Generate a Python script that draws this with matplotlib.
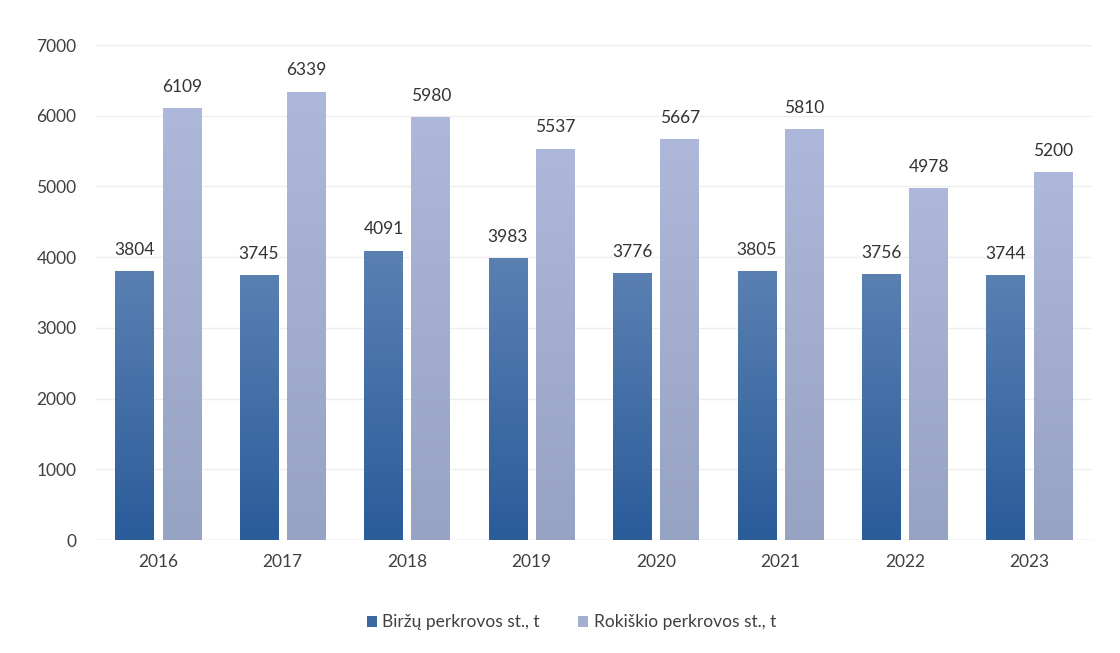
import numpy as np
import matplotlib
matplotlib.use("Agg")
import matplotlib.pyplot as plt
from matplotlib.colors import LinearSegmentedColormap
from matplotlib.patches import Patch

plt.rcParams['font.family'] = ['Lato', 'DejaVu Sans']

years = ["2016", "2017", "2018", "2019", "2020", "2021", "2022", "2023"]
birzai = [3804, 3745, 4091, 3983, 3776, 3805, 3756, 3744]
rokiskis = [6109, 6339, 5980, 5537, 5667, 5810, 4978, 5200]
labels = ["Biržų perkrovos st., t", "Rokiškio perkrovos st., t"]

fig = plt.figure(figsize=(11.2, 6.53), dpi=100)
ax = fig.add_axes([0.0857, 0.173, 0.889, 0.758])

x = np.arange(len(years))
w = 0.31
off = 0.19

blue_cm = LinearSegmentedColormap.from_list("b", ["#2a5c9a", "#5a80b2"])
grey_cm = LinearSegmentedColormap.from_list("g", ["#97a3c2", "#aeb8da"])

grad = np.linspace(0, 1, 256).reshape(-1, 1)

def gradient_bars(xs, vals, cmap):
    bars = ax.bar(xs, vals, width=w, color="none", edgecolor="none", zorder=2)
    for b in bars:
        x0, y0 = b.get_x(), b.get_y()
        im = ax.imshow(grad, cmap=cmap, origin="lower", aspect="auto",
                       extent=[x0, x0 + b.get_width(), y0, y0 + b.get_height()],
                       zorder=2)
        im.set_clip_path(b)
    return bars

b1 = gradient_bars(x - off, birzai, blue_cm)
b2 = gradient_bars(x + off, rokiskis, grey_cm)

for xi, v in zip(x - off, birzai):
    ax.text(xi, v + 190, str(v), ha="center", va="bottom", fontsize=12.5, color="#333333")
for xi, v in zip(x + off, rokiskis):
    ax.text(xi, v + 190, str(v), ha="center", va="bottom", fontsize=12.5, color="#333333")

ax.set_xlim(-0.5, len(years) - 0.5)
ax.set_ylim(0, 7000)
ax.set_yticks(range(0, 7001, 1000))
ax.set_xticks(x)
ax.set_xticklabels(years)
ax.tick_params(axis="both", length=0, labelsize=12.5, labelcolor="#404040")
ax.tick_params(axis="y", pad=14)
ax.tick_params(axis="x", pad=10)
ax.grid(axis="y", color="#eeeeee", linewidth=1, zorder=0)
ax.set_axisbelow(True)
for s in ax.spines.values():
    s.set_visible(False)
ax.axhline(0, color="#e6e6e6", linewidth=1, zorder=1)

handles = [Patch(facecolor="#3a68a2"), Patch(facecolor="#a3aed0")]
fig.legend(handles, labels, loc="center", bbox_to_anchor=(0.51, 0.047), ncol=2,
           frameon=False, fontsize=12.5, handlelength=0.6, handleheight=0.6,
           handletextpad=0.3, columnspacing=2.2, labelcolor="#404040")

fig.savefig("out.png", dpi=100)
